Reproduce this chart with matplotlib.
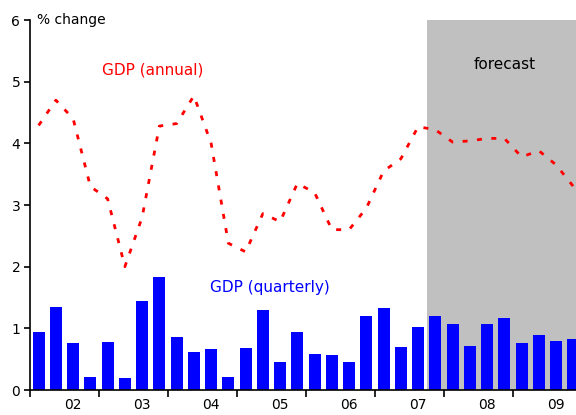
import numpy as np
import matplotlib
matplotlib.use("Agg")
from matplotlib import pyplot as plt

# quarterly growth (bars) and annual growth (dotted line), % change
quarterly = [0.94, 1.35, 0.76, 0.21, 0.78, 0.19, 1.45, 1.83,
             0.86, 0.61, 0.66, 0.21, 0.68, 1.30, 0.45, 0.94,
             0.59, 0.56, 0.46, 1.20, 1.33, 0.69, 1.02, 1.20,
             1.07, 0.71, 1.07, 1.17, 0.77, 0.89, 0.79, 0.82]
annual = [4.29, 4.70, 4.40, 3.30, 3.10, 2.00, 2.80, 4.28,
          4.32, 4.77, 4.00, 2.38, 2.24, 2.86, 2.73, 3.35,
          3.20, 2.60, 2.60, 2.95, 3.55, 3.75, 4.27, 4.22,
          4.02, 4.04, 4.08, 4.08, 3.78, 3.88, 3.65, 3.30]
year_labels = ["02", "03", "04", "05", "06", "07", "08", "09"]
forecast_start = 23  # first forecast quarter

plt.rcParams["font.family"] = "DejaVu Sans"

fig = plt.figure(figsize=(5.76, 4.15), dpi=100)
ax = fig.add_axes([30 / 576, 25 / 415, 552 / 576, 370 / 415])

x = np.arange(len(quarterly))
ax.axvspan(forecast_start - 0.5, len(quarterly) - 0.5, color="#c0c0c0", lw=0, zorder=0)
ax.bar(x, quarterly, width=0.7, color="#0000ff", zorder=2)
ax.plot(x, annual, color="#ff0000", lw=2.0, ls=(0, (1.8, 3.4)), zorder=3)

ax.set_xlim(-0.5, len(quarterly) - 0.5)
ax.set_ylim(0, 6)
ax.set_yticks(range(7))

# year boundaries as ticks, labels under the third quarter
ax.set_xticks(np.arange(-0.5, len(quarterly), 4))
ax.set_xticklabels([])
ax.set_xticks(np.arange(2, len(quarterly), 4), minor=True)
ax.set_xticklabels(year_labels, minor=True)
ax.tick_params(axis="x", which="minor", length=0, pad=6, labelsize=10)
ax.tick_params(axis="x", which="major", length=5, width=1.2)
ax.tick_params(axis="y", length=4, width=1.2, labelsize=10, pad=3)

for s in ["top", "right"]:
    ax.spines[s].set_visible(False)
ax.spines["left"].set_linewidth(1.2)
ax.spines["bottom"].set_linewidth(1.2)

ax.text(-0.1, 6.0, "% change", fontsize=10, va="center", ha="left")
ax.text(6.6, 5.19, "GDP (annual)", color="#ff0000", fontsize=11, ha="center", va="center")
ax.text(13.4, 1.67, "GDP (quarterly)", color="#0000ff", fontsize=11, ha="center", va="center")
ax.text(27.0, 5.28, "forecast", color="black", fontsize=11, ha="center", va="center")

fig.savefig("out.png", dpi=100)
